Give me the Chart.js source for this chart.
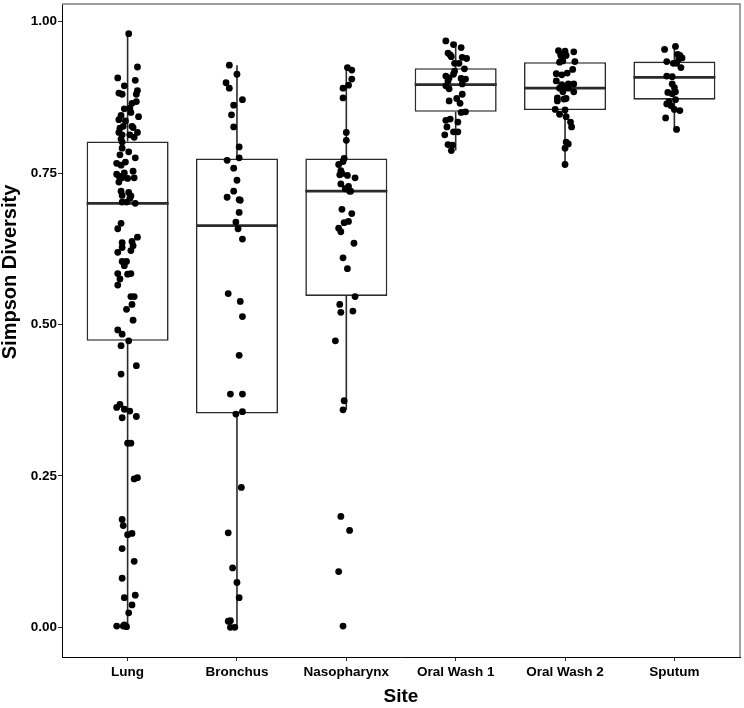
<!DOCTYPE html>
<html>
<head>
<meta charset="utf-8">
<script src="https://cdn.jsdelivr.net/npm/chart.js@4.4.1/dist/chart.umd.min.js"></script>
<style>
  html, body { margin: 0; padding: 0; background: #fff; }
  #wrap { width: 744px; height: 708px; }
</style>
</head>
<body>
<div id="wrap"><canvas id="simpsonChart" width="744" height="708"></canvas></div>
<script>
const sites = ["Lung", "Bronchus", "Nasopharynx", "Oral Wash 1", "Oral Wash 2", "Sputum"]
const yTicks = [0, 0.25, 0.5, 0.75, 1]
const yTitleText = "Simpson Diversity"
const xTitleText = "Site"

// box summaries, one entry per site
const whiskerLow = [0.000, 0.000, 0.359, 0.787, 0.764, 0.822]
const q1 = [0.473, 0.353, 0.547, 0.851, 0.854, 0.871]
const median = [0.700, 0.663, 0.720, 0.896, 0.890, 0.908]
const q3 = [0.802, 0.774, 0.774, 0.923, 0.933, 0.934]
const whiskerHigh = [0.980, 0.928, 0.924, 0.966, 0.953, 0.959]

// individual samples (value + horizontal jitter in category units)
const lungValues = [0.980,0.925,0.907,0.903,0.894,0.886,0.882,0.880,0.880,0.868,
  0.865,0.856,0.857,0.850,0.845,0.843,0.838,0.836,0.827,0.824,
  0.825,0.827,0.817,0.817,0.813,0.813,0.809,0.806,0.801,0.791,
  0.785,0.780,0.775,0.768,0.766,0.763,0.753,0.748,0.750,0.745,
  0.742,0.741,0.742,0.735,0.720,0.718,0.713,0.712,0.708,0.702,
  0.702,0.700,0.667,0.658,0.644,0.635,0.637,0.627,0.630,0.622,
  0.619,0.604,0.604,0.597,0.584,0.584,0.583,0.575,0.565,0.546,
  0.546,0.533,0.525,0.507,0.491,0.484,0.473,0.465,0.432,0.418,
  0.363,0.368,0.360,0.357,0.346,0.348,0.304,0.304,0.245,0.247,
  0.178,0.168,0.153,0.155,0.130,0.109,0.081,0.049,0.053,0.037,
  0.024,0.002,0.002,0.004,0.001]
const lungJitter = [0.01,0.09,-0.09,0.07,-0.03,0.09,-0.08,-0.05,0.08,0.08,
  0.04,-0.03,0.02,0.03,-0.06,0.10,-0.08,-0.02,0.04,-0.07,
  0.05,-0.04,-0.08,0.09,-0.05,0.02,0.06,-0.06,-0.05,-0.05,
  0.01,-0.07,0.07,-0.02,-0.10,-0.06,0.05,-0.10,-0.03,-0.08,
  -0.05,0.00,0.06,-0.08,-0.06,0.01,-0.05,0.03,0.02,-0.05,
  -0.01,0.07,-0.06,-0.09,0.09,-0.05,0.04,-0.05,0.05,0.03,
  -0.09,-0.05,-0.01,-0.03,-0.09,0.03,0.00,-0.07,-0.09,0.03,
  0.06,0.04,-0.01,0.05,-0.09,-0.05,0.01,-0.06,0.08,-0.06,
  -0.10,-0.07,-0.03,0.02,-0.05,0.08,0.00,0.03,0.06,0.09,
  -0.05,-0.04,0.00,0.04,-0.05,0.06,-0.05,-0.03,0.07,0.04,
  0.01,-0.10,-0.04,-0.03,-0.01]

const bronchusValues = [0.928,0.913,0.899,0.890,0.871,0.862,0.846,0.826,0.793,0.775,
  0.771,0.758,0.738,0.720,0.710,0.706,0.705,0.685,0.669,0.658,
  0.641,0.551,0.538,0.513,0.449,0.385,0.385,0.356,0.352,0.231,
  0.156,0.098,0.074,0.049,0.010,0.011,0.000,0.000]
const bronchusJitter = [-0.07,0.00,-0.10,-0.07,0.05,-0.03,-0.05,-0.03,0.02,0.02,
  -0.09,-0.03,0.00,-0.03,-0.09,0.02,0.03,0.02,-0.01,0.01,
  0.05,-0.08,0.03,0.05,0.02,-0.06,0.05,0.05,-0.01,0.04,
  -0.08,-0.04,0.00,0.02,-0.08,-0.06,-0.06,-0.02]

const nasoValues = [0.924,0.920,0.905,0.895,0.890,0.874,0.817,0.804,0.774,0.769,
  0.764,0.754,0.749,0.747,0.746,0.742,0.732,0.728,0.724,0.720,
  0.720,0.690,0.683,0.670,0.668,0.659,0.653,0.634,0.610,0.592,
  0.546,0.533,0.522,0.520,0.473,0.374,0.359,0.183,0.160,0.092,
  0.002]
const nasoJitter = [0.01,0.05,0.05,0.02,-0.03,-0.03,0.00,0.00,-0.02,-0.03,
  -0.07,-0.05,-0.04,-0.06,0.01,0.08,-0.05,0.02,-0.01,0.03,
  0.04,-0.04,0.05,0.02,-0.02,-0.07,-0.05,0.07,-0.03,0.01,
  0.08,-0.06,0.06,-0.05,-0.10,-0.02,-0.03,-0.05,0.03,-0.07,
  -0.03]

const oralWash1Values = [0.968,0.962,0.957,0.948,0.945,0.942,0.939,0.941,0.931,0.931,
  0.922,0.918,0.913,0.910,0.907,0.902,0.906,0.905,0.897,0.894,
  0.889,0.880,0.869,0.873,0.865,0.850,0.851,0.837,0.839,0.834,
  0.826,0.818,0.818,0.813,0.797,0.796,0.787]
const oralWash1Jitter = [-0.09,-0.02,0.05,-0.07,-0.05,-0.04,0.10,0.06,-0.01,0.03,
  0.08,-0.01,-0.02,-0.09,-0.06,-0.07,0.05,0.09,0.06,-0.09,
  -0.06,0.06,-0.06,0.01,0.04,0.05,0.09,-0.09,-0.05,0.02,
  -0.08,-0.02,0.02,-0.10,-0.07,-0.03,-0.04]

const oralWash2Values = [0.952,0.951,0.950,0.945,0.944,0.941,0.933,0.935,0.934,0.921,
  0.914,0.912,0.915,0.902,0.897,0.897,0.896,0.890,0.890,0.890,
  0.884,0.884,0.874,0.873,0.869,0.872,0.855,0.854,0.847,0.843,
  0.834,0.826,0.801,0.798,0.791,0.764]
const oralWash2Jitter = [-0.06,0.00,0.08,-0.04,0.01,-0.03,-0.05,-0.02,0.09,0.07,
  -0.08,-0.03,0.02,-0.08,0.03,0.08,-0.03,-0.05,-0.01,0.03,
  -0.02,0.08,-0.07,0.01,-0.07,-0.01,-0.09,0.00,-0.05,0.01,
  0.05,0.06,0.01,0.03,0.00,0.00]

const sputumValues = [0.954,0.959,0.946,0.944,0.940,0.938,0.934,0.931,0.931,0.924,
  0.910,0.909,0.897,0.891,0.883,0.884,0.881,0.868,0.871,0.864,
  0.861,0.855,0.853,0.841,0.822]
const sputumJitter = [-0.09,0.01,0.03,0.05,0.07,0.04,-0.07,-0.01,0.02,0.06,
  -0.07,-0.02,-0.02,0.00,-0.06,0.01,-0.02,-0.05,0.01,-0.07,
  -0.03,0.00,0.05,-0.08,0.02]

const boxWidth = 0.75
const lineColor = "#2b2b2b"
const fontFamily = "'Liberation Sans', Arial, sans-serif"

const samples = [
  [lungValues, lungJitter],
  [bronchusValues, bronchusJitter],
  [nasoValues, nasoJitter],
  [oralWash1Values, oralWash1Jitter],
  [oralWash2Values, oralWash2Jitter],
  [sputumValues, sputumJitter],
]

const pointData = samples.flatMap(([vals, jit], i) => vals.map((v, k) => ({ x: i + 1 + jit[k], y: v })))
const boxData = sites.map((_, i) => ({ x: i + 1, y: [q1[i], q3[i]] }))
const whiskerData = sites.flatMap((_, i) => [
  { x: i + 1, y: whiskerLow[i] }, { x: i + 1, y: q1[i] }, { x: i + 1, y: null },
  { x: i + 1, y: q3[i] }, { x: i + 1, y: whiskerHigh[i] }, { x: i + 1, y: null },
])
const medianData = sites.flatMap((_, i) => [
  { x: i + 1 - boxWidth / 2, y: median[i] }, { x: i + 1 + boxWidth / 2, y: median[i] }, { x: i + 1, y: null },
])

// grey panel outline on top and right, the axes draw left and bottom
const panelBorder = {
  id: "panelBorder",
  afterDraw(chart) {
    const { ctx, chartArea: a } = chart
    ctx.save()
    ctx.strokeStyle = "#808080"
    ctx.lineWidth = 1.5
    ctx.beginPath()
    ctx.moveTo(a.left, a.top)
    ctx.lineTo(a.right, a.top)
    ctx.lineTo(a.right, a.bottom)
    ctx.stroke()
    ctx.restore()
  },
}

// y title sits a bit above the panel middle in the original
const yTitle = {
  id: "yTitle",
  afterDraw(chart) {
    const ctx = chart.ctx
    ctx.save()
    ctx.translate(10, 272)
    ctx.rotate(-Math.PI / 2)
    ctx.font = `bold 20px ${fontFamily}`
    ctx.fillStyle = "#000"
    ctx.textAlign = "center"
    ctx.textBaseline = "middle"
    ctx.fillText(yTitleText, 0, 0)
    ctx.restore()
  },
}

const tickFont = { family: fontFamily, size: 13.5, weight: "bold" }

new Chart(document.getElementById("simpsonChart"), {
  type: "scatter",
  data: {
    datasets: [
      {
        label: "samples",
        data: pointData,
        pointRadius: 3.4,
        pointBackgroundColor: "#000",
        pointBorderWidth: 0,
        order: 0,
      },
      {
        label: "median",
        data: medianData,
        showLine: true,
        spanGaps: false,
        borderColor: lineColor,
        borderWidth: 2.8,
        pointRadius: 0,
        order: 1,
      },
      {
        label: "whiskers",
        data: whiskerData,
        showLine: true,
        spanGaps: false,
        borderColor: lineColor,
        borderWidth: 1.6,
        pointRadius: 0,
        order: 2,
      },
      {
        type: "bar",
        label: "boxes",
        data: boxData,
        backgroundColor: "#ffffff",
        borderColor: lineColor,
        borderWidth: 1.6,
        borderSkipped: false,
        categoryPercentage: 1,
        barPercentage: boxWidth,
        order: 3,
      },
    ],
  },
  options: {
    responsive: false,
    animation: false,
    events: [],
    layout: { padding: { top: 2, right: 1, bottom: 0, left: 0 } },
    plugins: {
      legend: { display: false },
      tooltip: { enabled: false },
    },
    scales: {
      x: {
        type: "linear",
        bounds: "data",
        min: 0.4,
        max: 6.6,
        offset: false,
        afterBuildTicks: (scale) => {
          scale.ticks = sites.map((_, i) => ({ value: i + 1 }))
        },
        afterFit: (scale) => {
          scale.height = 51
          scale.paddingLeft = 0
          scale.paddingRight = 0
        },
        ticks: {
          autoSkip: false,
          maxRotation: 0,
          color: "#000",
          font: tickFont,
          padding: 3,
          callback: (value) => sites[Math.round(value) - 1],
        },
        grid: { offset: false, drawOnChartArea: false, drawTicks: true, tickLength: 4, color: lineColor },
        border: { color: "#000", width: 1 },
        title: {
          display: true,
          text: xTitleText,
          color: "#000",
          font: { family: fontFamily, size: 19, weight: "bold", lineHeight: 1 },
          padding: { top: 0, bottom: 1.5 },
        },
      },
      y: {
        type: "linear",
        bounds: "data",
        min: -0.049,
        max: 1.029,
        afterBuildTicks: (scale) => {
          scale.ticks = yTicks.map((v) => ({ value: v }))
        },
        afterFit: (scale) => {
          scale.width = 62
          scale.paddingTop = 0
          scale.paddingBottom = 0
        },
        ticks: {
          color: "#000",
          font: tickFont,
          padding: 1,
          callback: (value) => value.toFixed(2),
        },
        grid: { offset: false, drawOnChartArea: false, drawTicks: true, tickLength: 4, color: lineColor },
        border: { color: "#000", width: 1 },
      },
    },
  },
  plugins: [panelBorder, yTitle],
})
</script>
</body>
</html>
